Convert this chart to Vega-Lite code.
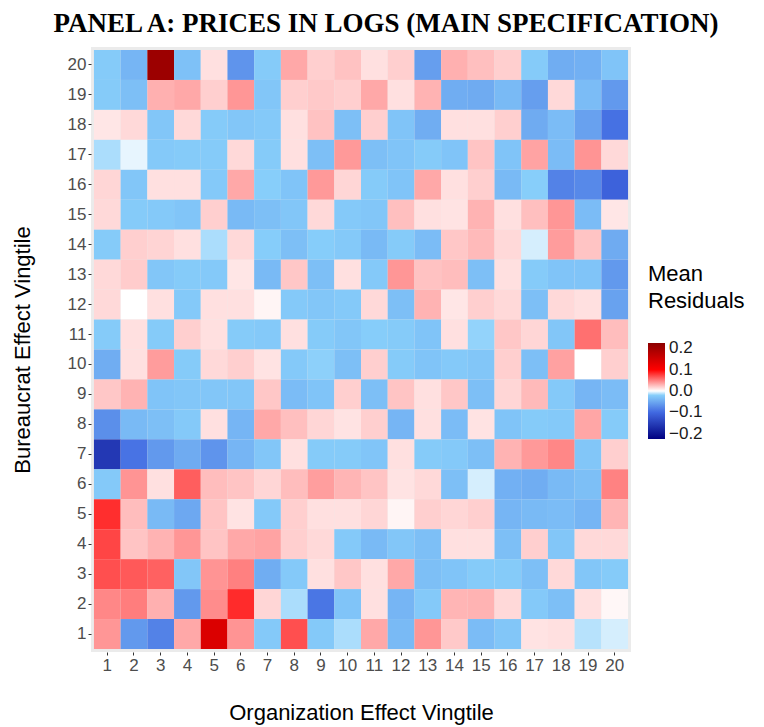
{
  "$schema": "https://vega.github.io/schema/vega-lite/v6.json",
  "autosize": {"type": "none"},
  "width": 540,
  "height": 605,
  "padding": {"left": 91, "top": 47, "right": 133, "bottom": 75},
  "background": "white",
  "title": {"text": "PANEL A: PRICES IN LOGS (MAIN SPECIFICATION)", "font": "Liberation Serif", "fontSize": 27, "fontWeight": "bold", "color": "#000000", "anchor": "middle", "dx": 25, "offset": 9},
  "config": {"view": {"fill": "#ebebeb", "stroke": null}},
  "datasets": {
    "grid": [
      {"bur":20,"row":[-0.022,-0.04,0.207,-0.03,0.012,-0.066,-0.022,0.034,0.019,0.024,0.012,0.019,-0.058,0.031,0.025,0.019,-0.022,-0.046,-0.044,-0.028]},
      {"bur":19,"row":[-0.022,-0.032,0.031,0.034,0.019,0.041,-0.026,0.019,0.021,0.019,0.034,0.012,0.03,-0.046,-0.048,-0.036,-0.058,0.015,-0.034,-0.062]},
      {"bur":18,"row":[0.01,0.015,-0.026,0.015,-0.022,-0.026,-0.024,0.012,0.024,-0.032,0.019,-0.028,-0.046,0.012,0.012,0.019,-0.048,-0.034,-0.056,-0.094]},
      {"bur":17,"row":[-0.014,-0.004,-0.024,-0.022,-0.022,0.015,-0.022,0.012,-0.032,0.04,-0.032,-0.028,-0.022,-0.028,0.023,-0.028,0.036,-0.034,0.042,0.015]},
      {"bur":16,"row":[0.016,-0.026,0.012,0.012,-0.024,0.034,-0.02,-0.028,0.04,0.016,-0.022,-0.028,0.034,0.012,0.019,-0.036,-0.02,-0.08,-0.075,-0.108]},
      {"bur":15,"row":[0.015,-0.022,-0.024,-0.027,0.019,-0.036,-0.032,-0.026,0.015,-0.024,-0.026,0.025,0.012,0.011,0.03,0.012,0.025,0.041,-0.034,0.01]},
      {"bur":14,"row":[-0.022,0.019,0.017,0.012,-0.014,0.015,-0.021,-0.032,-0.021,-0.024,-0.036,-0.022,-0.034,0.022,0.027,0.015,-0.007,0.039,0.023,-0.048]},
      {"bur":13,"row":[0.015,0.02,-0.026,-0.022,-0.024,0.01,-0.036,0.022,-0.032,0.012,-0.024,0.041,0.024,0.026,-0.032,0.012,-0.022,-0.028,-0.028,-0.062]},
      {"bur":12,"row":[0.015,0.0,0.012,-0.024,0.012,0.012,0.004,-0.024,-0.026,-0.024,0.015,-0.032,0.03,0.01,0.019,0.015,-0.032,0.015,0.012,-0.055]},
      {"bur":11,"row":[-0.022,0.012,-0.022,0.019,0.012,-0.022,-0.024,0.012,-0.022,-0.026,-0.021,-0.022,-0.028,0.012,-0.018,0.022,0.016,-0.026,0.056,0.026]},
      {"bur":10,"row":[-0.046,0.012,0.039,-0.022,0.015,0.019,0.011,-0.024,-0.019,-0.032,0.019,-0.022,-0.028,-0.024,-0.026,0.019,-0.032,0.037,0.0,0.019]},
      {"bur":9,"row":[0.022,0.03,-0.028,-0.026,-0.026,-0.026,0.022,-0.034,-0.028,0.019,-0.032,0.023,0.012,0.022,-0.032,0.016,0.027,-0.024,-0.04,-0.034]},
      {"bur":8,"row":[-0.07,-0.036,-0.032,-0.024,0.012,-0.04,0.034,0.025,0.016,0.011,0.019,-0.04,0.012,-0.034,0.011,-0.028,-0.022,-0.024,0.035,-0.022]},
      {"bur":7,"row":[-0.158,-0.092,-0.062,-0.048,-0.066,-0.04,-0.026,0.012,-0.022,-0.022,-0.027,0.012,-0.022,-0.024,-0.032,0.03,0.04,0.047,-0.026,0.019]},
      {"bur":6,"row":[-0.024,0.042,0.012,0.063,0.026,0.023,0.016,0.026,0.038,0.029,0.023,0.011,0.015,-0.032,-0.007,-0.044,-0.046,-0.036,-0.032,0.049]},
      {"bur":5,"row":[0.082,0.026,-0.036,-0.05,0.023,0.011,-0.024,0.019,0.012,0.012,0.016,0.004,0.019,0.016,0.019,-0.04,-0.036,-0.034,-0.04,0.029]},
      {"bur":4,"row":[0.073,0.023,0.03,0.041,0.023,0.034,0.036,0.019,0.015,-0.024,-0.036,-0.026,-0.032,0.012,0.012,-0.032,0.019,-0.026,0.015,0.015]},
      {"bur":3,"row":[0.069,0.065,0.062,-0.026,0.042,0.05,-0.046,-0.024,0.012,0.022,0.012,0.034,-0.032,-0.028,-0.022,-0.022,-0.032,0.015,-0.026,-0.022]},
      {"bur":2,"row":[0.047,0.051,0.031,-0.062,0.045,0.083,0.016,-0.014,-0.09,-0.028,0.012,-0.04,-0.024,0.029,0.03,0.015,-0.024,-0.032,0.012,0.003]},
      {"bur":1,"row":[0.041,-0.062,-0.08,0.034,0.139,0.042,-0.024,0.069,-0.024,-0.014,0.034,-0.036,0.041,0.021,-0.034,-0.026,0.011,0.012,-0.012,-0.007]}
    ]
  },
  "data": {"name": "grid"},
  "transform": [
    {"flatten": ["row"]},
    {"window": [{"op": "row_number", "as": "org"}], "groupby": ["bur"]}
  ],
  "mark": {"type": "rect"},
  "encoding": {
    "x": {"field": "org", "type": "ordinal", "sort": "ascending",
      "scale": {"paddingInner": 0, "paddingOuter": 0.11},
      "axis": {"title": "Organization Effect Vingtile", "labelAngle": 0, "labelFont": "Liberation Sans", "labelFontSize": 17, "labelColor": "#4d4d4d", "tickColor": "#333333", "tickSize": 3, "labelPadding": 2, "domain": false, "grid": false, "titleFont": "Liberation Sans", "titleFontSize": 22, "titleFontWeight": "normal", "titleColor": "#000000", "titlePadding": 29}},
    "y": {"field": "bur", "type": "ordinal", "sort": "descending",
      "scale": {"paddingInner": 0, "paddingOuter": 0.1},
      "axis": {"title": "Bureaucrat Effect Vingtile", "labelFont": "Liberation Sans", "labelFontSize": 17, "labelColor": "#4d4d4d", "tickColor": "#333333", "tickSize": 3, "labelPadding": 2, "domain": false, "grid": false, "titleFont": "Liberation Sans", "titleFontSize": 22, "titleFontWeight": "normal", "titleColor": "#000000", "titlePadding": 33}},
    "color": {"field": "row", "type": "quantitative", "title": ["Mean", "Residuals"],
      "scale": {"domain": [-0.225, -0.1, -0.02, 0, 0.1, 0.225], "range": ["#000080", "#4169e1", "#87cefa", "#ffffff", "#ff0000", "#8b0000"], "interpolate": "rgb"},
      "legend": {"orient": "none", "legendX": 557, "legendY": 217, "gradientLength": 96, "gradientThickness": 17, "values": [-0.2, -0.1, 0, 0.1, 0.2], "format": ".1f", "labelFont": "Liberation Sans", "labelFontSize": 17, "labelColor": "#1a1a1a", "labelOffset": 4, "titleFont": "Liberation Sans", "titleFontSize": 22, "titleFontWeight": "normal", "titleColor": "#000000", "titleLineHeight": 27, "titlePadding": 30, "gradientStrokeWidth": 0}}
  }
}
